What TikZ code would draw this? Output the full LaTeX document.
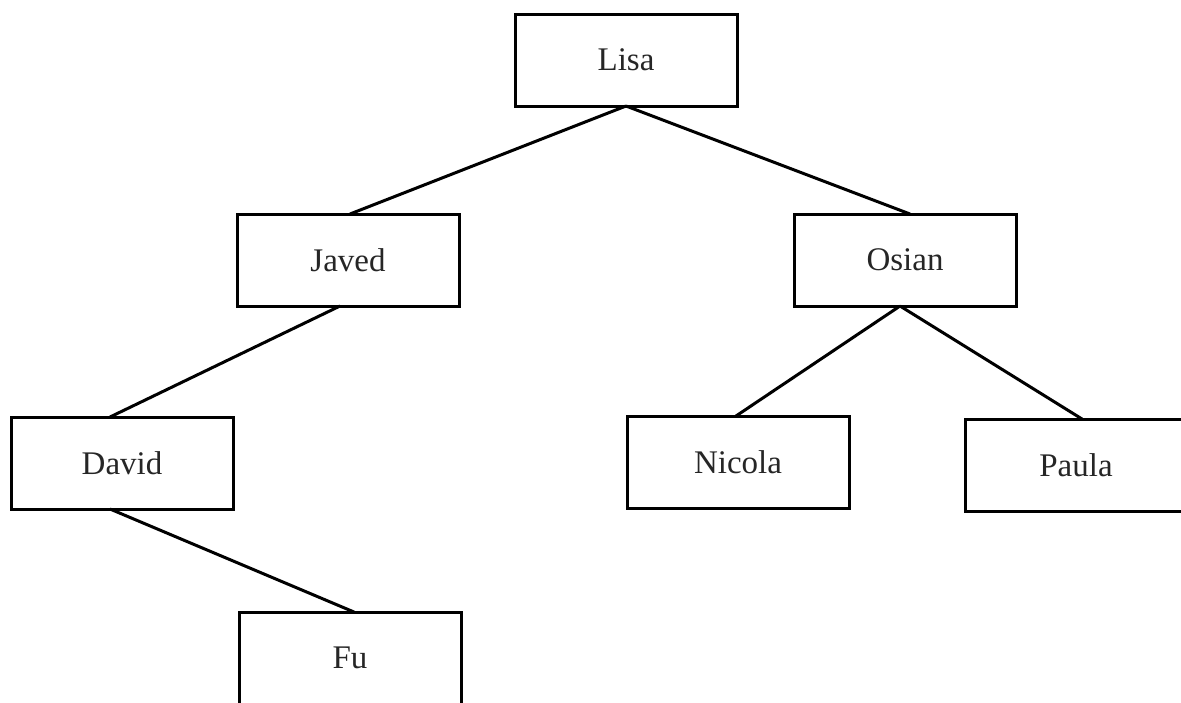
\documentclass[tikz,border=0pt]{standalone}
\usepackage{fontspec}
\setmainfont{Liberation Serif}
\begin{document}
\begin{tikzpicture}[x=0.5pt,y=-0.5pt,
  person/.style={draw, line width=1.5pt, rectangle, minimum width=111pt, minimum height=46pt, inner sep=0pt, outer sep=0pt, font=\fontsize{16.5}{20}\selectfont, text=black!85},
  link/.style={line width=1.5pt}]
\useasboundingbox (0,0) rectangle (1181,702);
\clip (0,0) rectangle (1181,702);
\node[person] (lisa) at (626,60) {Lisa};
\node[person] (javed) at (348,260) {Javed};
\node[person] (osian) at (905,260) {Osian};
\node[person] (david) at (122,463) {David};
\node[person] (nicola) at (738,462) {Nicola};
\node[person] (paula) at (1076,465) {Paula};
\node[person] (fu) at (350,658) {Fu};
\draw[link] (lisa.south) -- ([xshift=1pt]javed.north);
\draw[link] (lisa.south) -- ([xshift=2.5pt]osian.north);
\draw[link] ([xshift=-4pt]javed.south) -- ([xshift=-6pt]david.north);
\draw[link] ([xshift=-2.5pt]osian.south) -- ([xshift=-1pt]nicola.north);
\draw[link] ([xshift=-2.5pt]osian.south) -- ([xshift=3pt]paula.north);
\draw[link] ([xshift=-6pt]david.south) -- ([xshift=2pt]fu.north);
\end{tikzpicture}
\end{document}
